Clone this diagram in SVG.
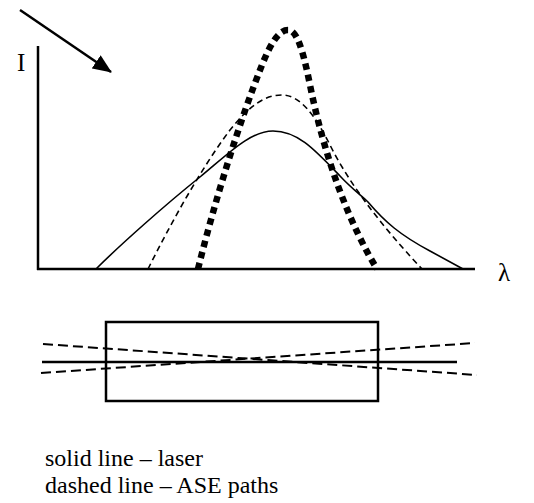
<svg xmlns="http://www.w3.org/2000/svg" width="534" height="503" viewBox="0 0 534 503">
<style>
.ln{fill:none;stroke:#000;stroke-linecap:butt}
.ax{stroke-width:2.5}
.sol{stroke-width:1.6}
.ds{stroke-width:1.6;stroke-dasharray:6 4}
.dot{stroke-width:6.5;stroke-dasharray:6.5 5}
.bd{stroke-width:2;stroke-dasharray:10 5}
.t{font-family:"Liberation Serif","Times New Roman",serif;fill:#000}
</style>
<defs>
<marker id="ah" markerWidth="20" markerHeight="16" refX="18" refY="8" orient="auto" markerUnits="userSpaceOnUse">
<polygon points="0,0 19,8 0,16" fill="#000"/>
</marker>
</defs>
<g id="connectors">
<line class="ln ax" x1="20" y1="10" x2="111" y2="72" marker-end="url(#ah)"/>
</g>
<g id="axes">
<line class="ln ax" x1="38" y1="46" x2="38" y2="270"/>
<line class="ln ax" x1="37" y1="269" x2="475" y2="269"/>
<text class="t" x="17" y="71" font-size="25">I</text>
<text class="t" x="498" y="281" font-size="25">λ</text>
</g>
<g id="laser-curve">
<path class="ln sol" d="M96,269 C120,245 165,205 200,177 C228,154 250,131 273,131 C298,131 315,150 340,176 C352,189 362,196 368,202 C385,222 400,235 430,251 L463,269"/>
</g>
<g id="ase-curve">
<path class="ln ds" d="M148,269 C170,225 200,170 230,130 C250,105 265,95 282,95 C300,95 315,115 330,145 C355,195 395,240 422,269"/>
</g>
<g id="thick-curve">
<path class="ln dot" d="M198,269 C215,200 240,120 262,65 C272,40 280,30 288,30 C296,30 302,45 310,85 C325,160 350,225 377,269"/>
</g>
<g id="medium">
<rect class="ln ax" x="106" y="322" width="272" height="79"/>
<line class="ln ax" x1="42" y1="362" x2="457" y2="362"/>
<line class="ln bd" x1="43" y1="344" x2="477" y2="375"/>
<line class="ln bd" x1="41" y1="373" x2="475" y2="343"/>
</g>
<g id="legend">
<text class="t" x="45" y="466" font-size="24">solid line – laser</text>
<text class="t" x="45" y="493" font-size="24">dashed line – ASE paths</text>
</g>
</svg>
